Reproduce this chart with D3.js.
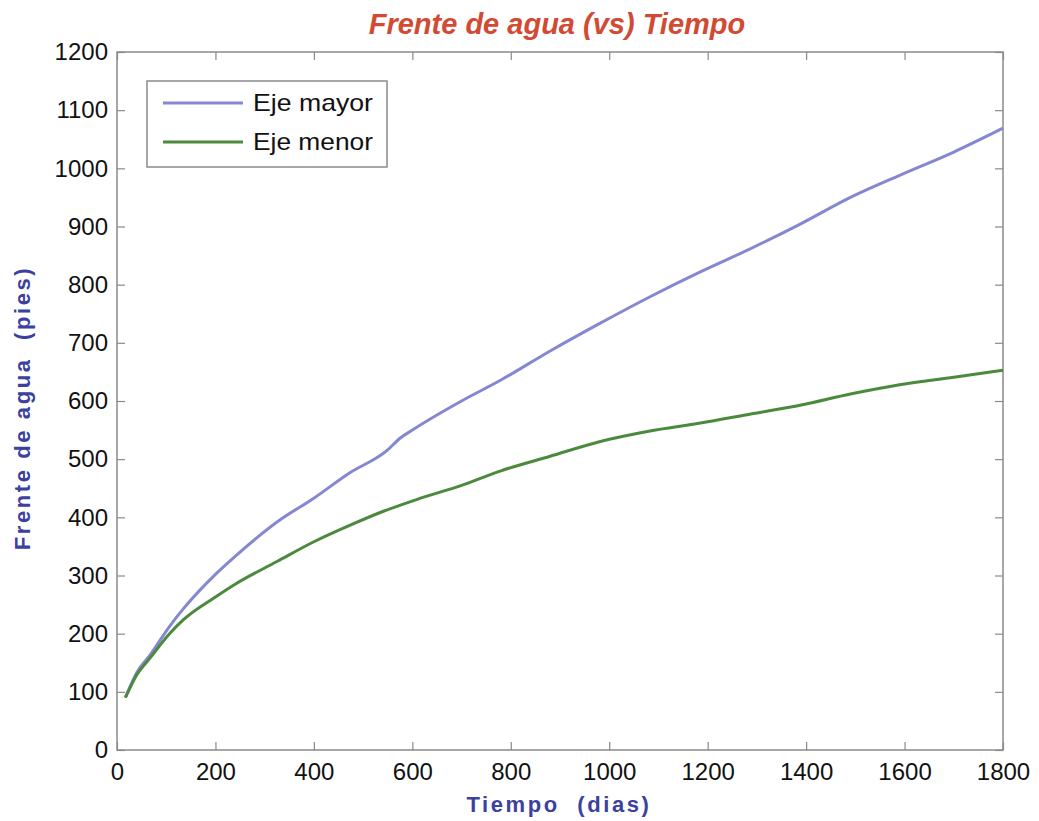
<!DOCTYPE html>
<html>
<head>
<meta charset="utf-8">
<script src="https://cdn.jsdelivr.net/npm/d3@7"></script>
<style>
  html, body { margin: 0; padding: 0; background: #fff; }
  svg { display: block; font-family: "Liberation Sans", Arial, sans-serif; }
</style>
</head>
<body>
<svg id="chart" width="1039" height="821"></svg>
<script>
const titleText = "Frente de agua (vs) Tiempo";
const xLabel = "Tiempo  (dias)";
const yLabel = "Frente de agua  (pies)";
const xTicks = [0, 200, 400, 600, 800, 1000, 1200, 1400, 1600, 1800];
const yTicks = [0, 100, 200, 300, 400, 500, 600, 700, 800, 900, 1000, 1100, 1200];

const mayorDays = [17, 40, 67, 108, 135, 200, 240, 330, 400, 470, 550, 575, 600, 700, 780, 880, 980, 1080, 1185, 1290, 1390, 1490, 1590, 1700, 1800];
const mayorVals = [90, 133, 163, 214, 243, 302, 333, 395, 433, 475, 516, 536, 550, 600, 636, 686, 733, 778, 822, 863, 905, 950, 988, 1028, 1069];

const menorDays = [17, 40, 67, 108, 135, 200, 240, 325, 400, 475, 540, 610, 700, 780, 880, 980, 1080, 1185, 1290, 1390, 1490, 1590, 1700, 1800];
const menorVals = [90, 129, 158, 201, 224, 263, 285, 324, 358, 387, 410, 431, 455, 480, 505, 530, 548, 562, 578, 593, 612, 628, 641, 653];

const seriesNames = ["Eje mayor", "Eje menor"];
const seriesColors = ["#8587d2", "#4b8a3c"];

const svg = d3.select("#chart");
const L = 117, R = 1003, T = 52, B = 750;

const x = d3.scaleLinear().domain([0, 1800]).range([L, R]);
const y = d3.scaleLinear().domain([0, 1200]).range([B, T]);

// Title
svg.append("text")
  .attr("x", 557).attr("y", 34)
  .attr("text-anchor", "middle")
  .attr("font-size", 29).attr("font-weight", "bold").attr("font-style", "italic")
  .attr("fill", "#d14a33")
  .text(titleText);

// Box
svg.append("rect")
  .attr("x", L).attr("y", T).attr("width", R - L).attr("height", B - T)
  .attr("fill", "none").attr("stroke", "#8a8a8a").attr("stroke-width", 1.5);

const tickLen = 8;
const gx = svg.append("g").attr("transform", `translate(0,${B})`)
  .call(d3.axisBottom(x).tickValues(xTicks).tickSize(-tickLen).tickPadding(13).tickFormat(d3.format("d")));
const gxTop = svg.append("g").attr("transform", `translate(0,${T})`)
  .call(d3.axisTop(x).tickValues(xTicks).tickSize(-tickLen).tickFormat(""));
const gy = svg.append("g").attr("transform", `translate(${L},0)`)
  .call(d3.axisLeft(y).tickValues(yTicks).tickSize(-tickLen).tickPadding(9).tickFormat(d3.format("d")));
const gyR = svg.append("g").attr("transform", `translate(${R},0)`)
  .call(d3.axisRight(y).tickValues(yTicks).tickSize(-tickLen).tickFormat(""));

[gx, gxTop, gy, gyR].forEach(g => {
  g.select(".domain").remove();
  g.selectAll(".tick line").attr("stroke", "#8a8a8a").attr("stroke-width", 1.2);
  g.selectAll(".tick text").attr("font-size", 24).attr("fill", "#111")
    .attr("font-family", "'Liberation Sans', Arial, sans-serif");
});
gx.selectAll(".tick text").attr("dy", "0.71em");

// Axis labels
svg.append("text")
  .attr("x", 559).attr("y", 812)
  .attr("text-anchor", "middle")
  .attr("font-size", 22).attr("font-weight", "bold").attr("letter-spacing", 2.6)
  .attr("fill", "#3c41a0")
  .style("white-space", "pre")
  .text(xLabel);

svg.append("text")
  .attr("transform", "translate(30,408) rotate(-90)")
  .attr("text-anchor", "middle")
  .attr("font-size", 22).attr("font-weight", "bold").attr("letter-spacing", 2.6)
  .attr("fill", "#3c41a0")
  .style("white-space", "pre")
  .text(yLabel);

// Lines
const line = d3.line().x(d => x(d[0])).y(d => y(d[1])).curve(d3.curveMonotoneX);
const mayor = mayorDays.map((d, i) => [d, mayorVals[i]]);
const menor = menorDays.map((d, i) => [d, menorVals[i]]);

svg.append("path").datum(mayor).attr("d", line)
  .attr("fill", "none").attr("stroke", seriesColors[0]).attr("stroke-width", 3);
svg.append("path").datum(menor).attr("d", line)
  .attr("fill", "none").attr("stroke", seriesColors[1]).attr("stroke-width", 3);

// Legend
const lg = svg.append("g");
lg.append("rect").attr("x", 147).attr("y", 81).attr("width", 240).attr("height", 86)
  .attr("fill", "#fff").attr("stroke", "#8a8a8a").attr("stroke-width", 1.5);
seriesNames.forEach((name, i) => {
  const yy = 103 + i * 39;
  lg.append("line").attr("x1", 163).attr("x2", 243).attr("y1", yy).attr("y2", yy)
    .attr("stroke", seriesColors[i]).attr("stroke-width", 3);
  lg.append("text").attr("x", 253).attr("y", yy + 8)
    .attr("font-size", 24).attr("fill", "#111")
    .attr("textLength", 120).attr("lengthAdjust", "spacingAndGlyphs")
    .text(name);
});
</script>
</body>
</html>
